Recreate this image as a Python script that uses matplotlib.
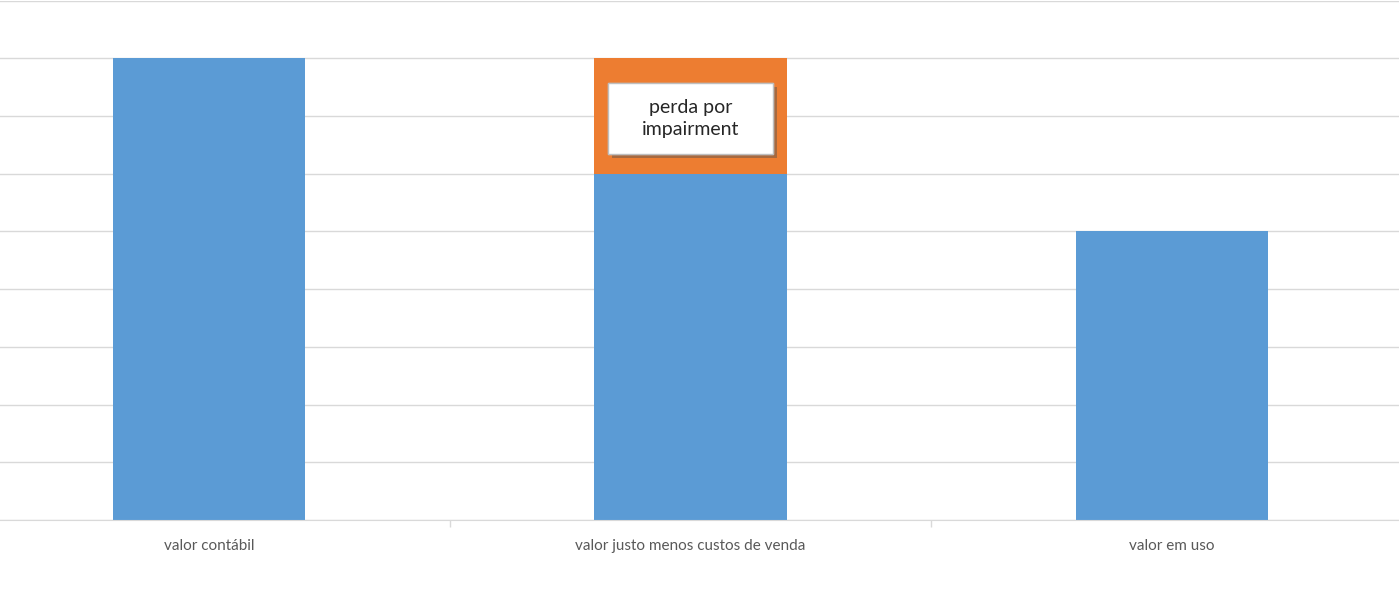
"""
Impairment: valor contábil vs. valor recuperável
"""
import matplotlib
matplotlib.use('Agg')
import matplotlib.pyplot as plt
import matplotlib.patheffects as pe
from matplotlib.patches import Rectangle
import numpy as np

plt.rcParams['font.family'] = ['Lato', 'DejaVu Sans']

# dados
categorias = ['valor contábil', 'valor justo menos custos de venda', 'valor em uso']
valor_base = [8, 6, 5]
perda_impairment = [0, 2, 0]
rotulo_perda = 'perda por\nimpairment'

AZUL = '#5B9BD5'
LARANJA = '#ED7D31'
GRADE = '#D9D9D9'

fig = plt.figure(figsize=(13.99, 6.01), dpi=100)
# área do gráfico um pouco maior que a figura (recortada nas laterais)
ax = fig.add_axes([-31.75 / 1399, 81 / 601, 1444.5 / 1399, 519.5 / 601])

x = np.arange(len(categorias))
ax.bar(x, valor_base, width=0.4, color=AZUL, zorder=2)
ax.bar(x, perda_impairment, width=0.4, bottom=valor_base, color=LARANJA, zorder=2)

ax.set_xlim(-0.5, len(categorias) - 0.5)
ax.set_ylim(0, 9)
ax.set_yticks(np.arange(0, 10, 1))
ax.set_yticklabels([])
ax.tick_params(axis='y', length=0)
ax.grid(axis='y', color=GRADE, linewidth=1, zorder=0)

# rótulos das categorias e marcas entre categorias
ax.set_xticks(x)
ax.set_xticklabels(categorias, fontsize=11, color='#595959')
ax.tick_params(axis='x', which='major', length=0, pad=14)
ax.set_xticks(x[:-1] + 0.5, minor=True)
ax.tick_params(axis='x', which='minor', length=5, color=GRADE, width=1)

for s in ['top', 'left', 'right']:
    ax.spines[s].set_visible(False)
ax.spines['bottom'].set_color(GRADE)

# caixa de texto da perda
i = int(np.argmax(perda_impairment))
cy = valor_base[i] + perda_impairment[i] * 0.478
larg, alt = 0.342, 1.23
caixa = Rectangle((x[i] - larg / 2, cy - alt / 2), larg, alt,
                  fc='white', ec='#BFBFBF', lw=1, zorder=4)
caixa.set_path_effects([
    pe.withSimplePatchShadow(offset=(3, -3), shadow_rgbFace='#6E5A4A', alpha=0.55),
    pe.Normal(),
])
ax.add_patch(caixa)
ax.text(x[i], cy, rotulo_perda, ha='center', va='center', fontsize=14,
        color='#262626', linespacing=1.4, zorder=5)

fig.savefig('out.png', dpi=100)
